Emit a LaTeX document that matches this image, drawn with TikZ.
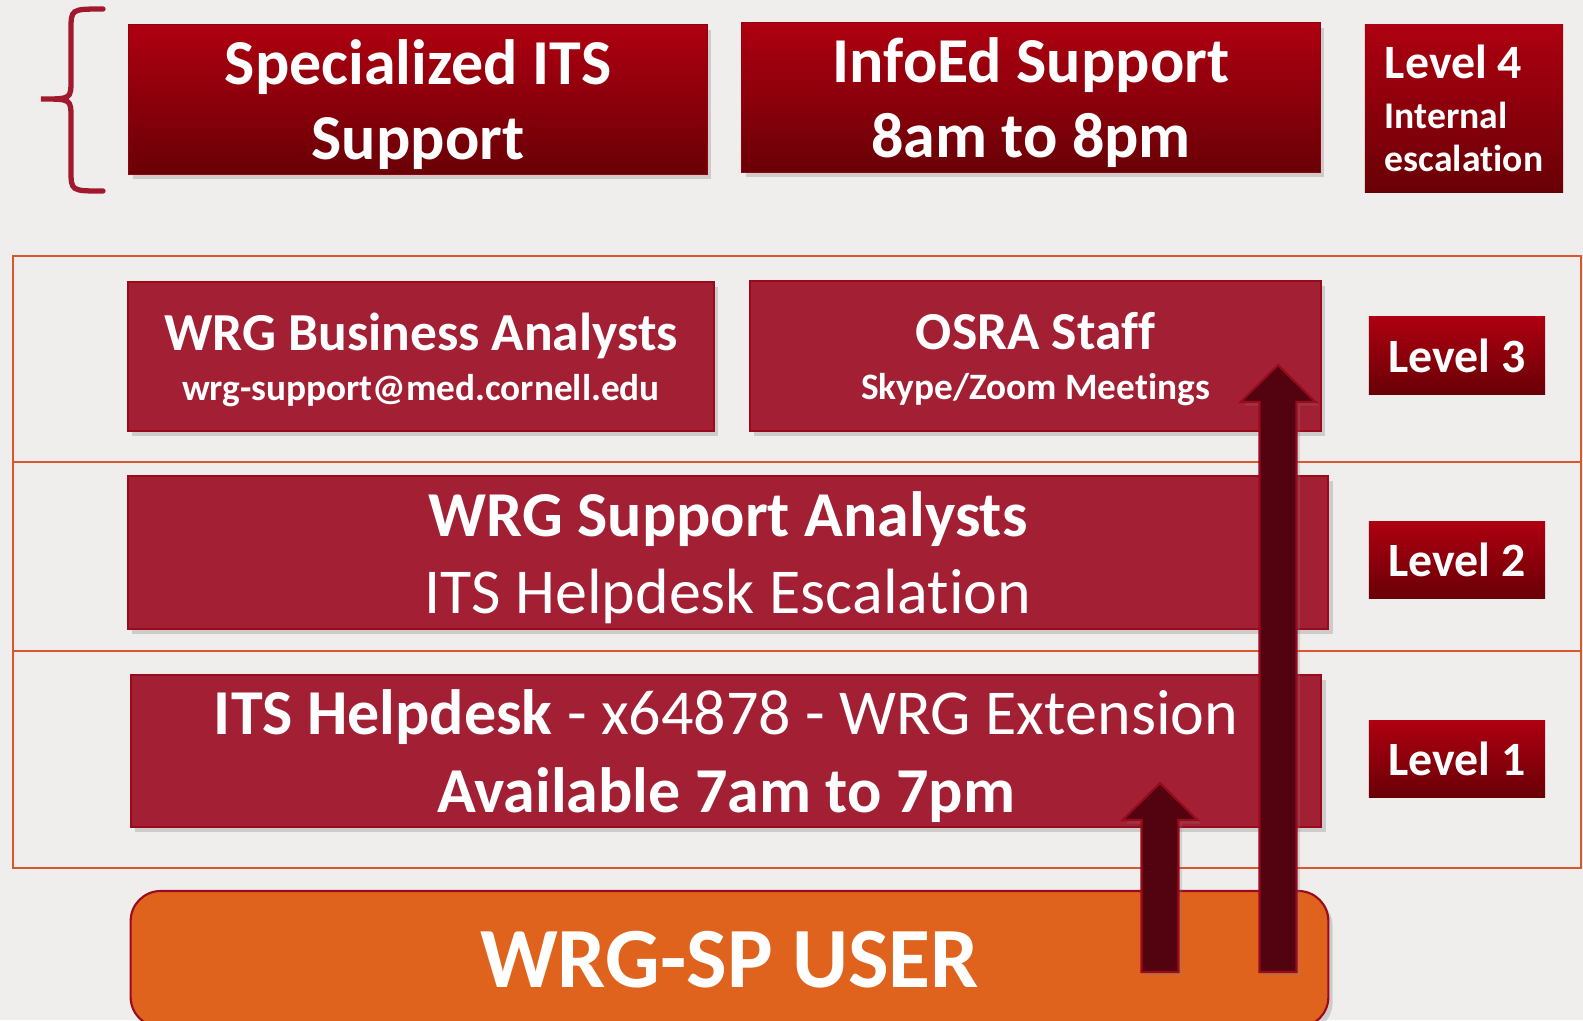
\documentclass[tikz,border=0pt]{standalone}
\usepackage{fontspec}
\setmainfont{Carlito}[Ligatures=NoCommon]
\usetikzlibrary{shadows,calc}
\definecolor{bg}{HTML}{EFEEEC}
\definecolor{redtop}{HTML}{AE0010}
\definecolor{redbot}{HTML}{690006}
\definecolor{midred}{HTML}{A21F34}
\definecolor{midedge}{HTML}{9A0A1C}
\definecolor{framecol}{HTML}{D9572E}
\definecolor{usercol}{HTML}{E0631D}
\definecolor{arrowcol}{HTML}{52030F}
\definecolor{bracecol}{HTML}{A2192E}

\begin{document}
\begin{tikzpicture}[x=0.01cm,y=-0.01cm,
    topbox/.style={top color=redtop,bottom color=redbot,draw=redtop!85!black,line width=0.3pt,
        text=white,align=center,inner sep=0pt,text depth=0pt,
        font=\bfseries\fontsize{18.2}{21.5}\selectfont,
        drop shadow={shadow xshift=1.2pt,shadow yshift=-1.5pt,opacity=0.3}},
    badge/.style={top color=redtop,bottom color=redbot,text=white,inner sep=0pt,
        font=\bfseries\fontsize{13.6}{16}\selectfont},
    midbox/.style={fill=midred,draw=midedge,line width=0.6pt,text=white,align=center,inner sep=0pt,
        text depth=0pt,font=\bfseries\fontsize{18.2}{22}\selectfont,
        drop shadow={shadow xshift=1.2pt,shadow yshift=-1.5pt,opacity=0.3}},
    rowframe/.style={draw=framecol,line width=0.6pt},
    blockarrow/.style={fill=arrowcol,draw=midedge,line width=0.6pt,
        drop shadow={shadow xshift=1pt,shadow yshift=-1pt,opacity=0.25}}]
    \newcommand\blockup[2]{
        \draw[blockarrow] ($(#1)+(-18.5,0)$) -- ($(#2)+(-18.5,37)$) -- ($(#2)+(-37.5,37)$) -- (#2)
            -- ($(#2)+(37.5,37)$) -- ($(#2)+(18.5,37)$) -- ($(#1)+(18.5,0)$) -- cycle;
    }
    \fill[bg] (0,0) rectangle (1583,1020);
    \useasboundingbox (0,0) rectangle (1583,1020);
    \clip (0,0) rectangle (1583,1020);

    \draw[bracecol,line width=1.5pt,line cap=round] (103,9) .. controls (71,9) .. (71,30) -- (71,80)
        .. controls (71,99) .. (41,99) .. controls (71,99) .. (71,118) -- (71,170) .. controls (71,191) .. (103,191);
    \node[topbox,minimum width=5.78cm,minimum height=1.49cm] (spec) at (418,99.5) {Specialized ITS\\Support};
    \node[topbox,minimum width=5.78cm,minimum height=1.49cm] (infoed) at (1031,97.5) {InfoEd Support\\8am to 8pm};
    \node[badge,minimum width=1.98cm,minimum height=1.67cm,align=left] (L4) at (1464,108.5)
        {Level 4\\[-1.9pt]{\fontsize{10.7}{12.5}\selectfont Internal}\\[-3.7pt]{\fontsize{10.7}{12.5}\selectfont escalation}};

    \foreach \ya/\yb in {256/462,462/651,651/868}
        \draw[rowframe] (13,\ya) rectangle (1581,\yb);

    \node[midbox,minimum width=5.86cm,minimum height=1.49cm] (wrgba) at (421,356.5)
        {{\fontsize{15.2}{18}\selectfont WRG Business Analysts}\\[-7.8pt]{\fontsize{10.6}{14}\selectfont wrg-support@med.cornell.edu}};
    \node[midbox,minimum width=5.71cm,minimum height=1.50cm] (osra) at (1035.5,356)
        {{\fontsize{15.2}{18}\selectfont OSRA Staff}\\[-7.8pt]{\fontsize{10.6}{14}\selectfont Skype/Zoom Meetings}};
    \node[midbox,minimum width=12cm,minimum height=1.53cm] (wrgsa) at (728,552.5)
        {WRG Support Analysts\\\mdseries ITS Helpdesk Escalation};
    \node[midbox,minimum width=11.9cm,minimum height=1.52cm] (helpdesk) at (726,751)
        {ITS Helpdesk {\mdseries - x64878 - WRG Extension}\\Available 7am to 7pm};
    \foreach \n/\y in {3/355.5,2/559.5,1/759}
        \node[badge,minimum width=1.76cm,minimum height=0.77cm] (L\n) at (1457,\y) {Level \n};

    \node[midbox,fill=usercol,draw=midedge,rounded corners=0.3cm,minimum width=11.97cm,minimum height=1.36cm,
        font=\bfseries\fontsize{24.4}{28}\selectfont] (user) at (729.5,959) {WRG-SP USER};

    \coordinate (a1s) at (1160,972);
    \coordinate (a1e) at (1160,783);
    \coordinate (a2s) at (1278,972);
    \coordinate (a2e) at (1278,365);
    \blockup{a1s}{a1e}
    \blockup{a2s}{a2e}
\end{tikzpicture}
\end{document}
